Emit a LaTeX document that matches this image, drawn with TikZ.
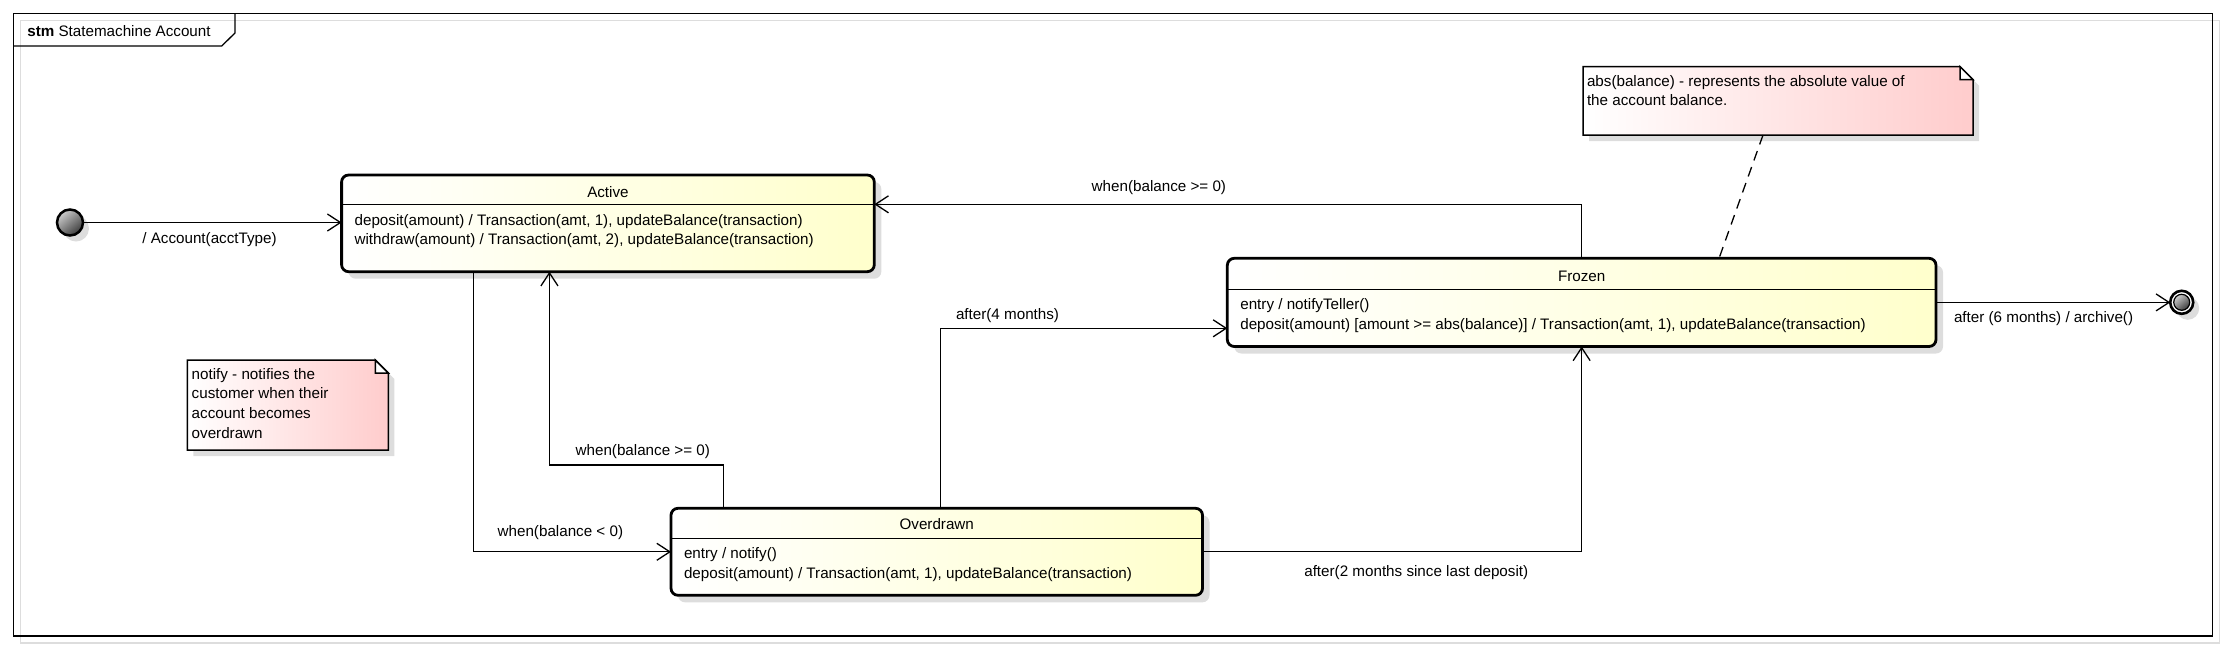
\documentclass[tikz,border=0pt]{standalone}
\usepackage{fontspec}
\setmainfont{Liberation Sans}
\usetikzlibrary{arrows.meta,calc,shadows}
\definecolor{stateyel}{RGB}{255,255,204}
\definecolor{notepink}{RGB}{255,204,204}
\definecolor{shadowgray}{RGB}{221,221,221}
\definecolor{initlight}{RGB}{205,205,205}
\definecolor{initdark}{RGB}{60,60,60}
\newcommand{\notepath}[3]{($(#1.north west)+(#2,#3)$) -- ($(#1.north east)+(#2-13,#3)$) -- ($(#1.north east)+(#2,#3+13)$) -- ($(#1.south east)+(#2,#3)$) -- ($(#1.south west)+(#2,#3)$) -- cycle}
\tikzset{
  txt/.style={inner sep=0pt, outer sep=0pt, font=\fontsize{15.2}{19.4}\selectfont},
  ttl/.style={txt, text height=10.9pt, text depth=0pt, anchor=center},
  statebox/.style={draw, line width=2.8pt, rounded corners=7pt, left color=white, right color=stateyel,
    inner sep=0pt, outer sep=0pt,
    drop shadow={shadow xshift=7pt, shadow yshift=-7pt, fill=shadowgray, opacity=1}},
  sep/.style={line width=1.3pt},
  tr/.style={line width=1.3pt, -{Straight Barb[length=13pt, width=17pt]}},
  notebody/.style={draw, line width=1.5pt, left color=white, right color=notepink},
  noteanchor/.style={inner sep=0pt, outer sep=0pt},
  pseudo/.style={circle, draw, inner sep=0pt, outer sep=0pt,
    drop shadow={shadow xshift=6pt, shadow yshift=-6pt, fill=shadowgray, opacity=1}},
  lbl/.style={txt, anchor=base},
  lblw/.style={txt, anchor=base west}
}
\begin{document}
\begin{tikzpicture}[x=1pt,y=-1pt]
\useasboundingbox (0,0) rectangle (2225,649);
% frame
\draw[shadowgray, line width=1.3pt] (20.5,20.3) rectangle (2219.5,643);
\draw[line width=1.3pt] (13.3,13.3) rectangle (2212.7,636);
\draw[line width=1.3pt] (13.3,46) -- (221.7,46) -- (235,33) -- (235,13.3);
\node[lblw] (frametitle) at (27.3,36.5) {\textbf{stm} Statemachine Account};

% states
\node[statebox, minimum width=532.7pt, minimum height=96.7pt] (active) at (607.95,223.35) {};
\draw[sep] ($(active.north west)+(0,29.3)$) -- ($(active.north east)+(0,29.3)$);
\node[ttl] (activet) at ($(active.north)+(0,16.8)$) {Active};
\node[lblw] (activeb1) at ($(active.north west)+(13,50.3)$) {deposit(amount) / Transaction(amt, 1), updateBalance(transaction)};
\node[lblw] (activeb2) at ($(active.north west)+(13,69.7)$) {withdraw(amount) / Transaction(amt, 2), updateBalance(transaction)};

\node[statebox, minimum width=708.7pt, minimum height=88.2pt] (frozen) at (1581.65,302.4) {};
\draw[sep] ($(frozen.north west)+(0,31)$) -- ($(frozen.north east)+(0,31)$);
\node[ttl] (frozent) at ($(frozen.north)+(0,17.8)$) {Frozen};
\node[lblw] (frozenb1) at ($(frozen.north west)+(13,51.5)$) {entry / notifyTeller()};
\node[lblw] (frozenb2) at ($(frozen.north west)+(13,70.9)$) {deposit(amount) [amount >= abs(balance)] / Transaction(amt, 1), updateBalance(transaction)};

\node[statebox, minimum width=531.5pt, minimum height=87pt] (overdrawn) at (936.75,551.8) {};
\draw[sep] ($(overdrawn.north west)+(0,30)$) -- ($(overdrawn.north east)+(0,30)$);
\node[ttl] (overdrawnt) at ($(overdrawn.north)+(0,16)$) {Overdrawn};
\node[lblw] (overdrawnb1) at ($(overdrawn.north west)+(13,50.5)$) {entry / notify()};
\node[lblw] (overdrawnb2) at ($(overdrawn.north west)+(13,69.9)$) {deposit(amount) / Transaction(amt, 1), updateBalance(transaction)};

% pseudostates
\node[pseudo, minimum size=26pt, line width=2.5pt, top color=initlight, bottom color=initdark, shading angle=40] (init) at (70,222.5) {};
\node[pseudo, minimum size=23pt, line width=2.6pt, fill=white] (final) at (2181.7,302.3) {};
\node[circle, draw, inner sep=0pt, minimum size=16pt, line width=1.2pt, top color=initlight, bottom color=initdark, shading angle=40] (finalin) at (final.center) {};

% notes
\node[noteanchor, minimum width=201pt, minimum height=90pt] (notifynote) at (287.8,405) {};
\fill[shadowgray] \notepath{notifynote}{6}{6};
\draw[notebody] \notepath{notifynote}{0}{0};
\draw[line width=1.5pt, fill=white] ($(notifynote.north east)+(-13,0)$) -- ($(notifynote.north east)+(-13,13)$) -- ($(notifynote.north east)+(0,13)$) -- cycle;
\node[lblw] (nn1) at ($(notifynote.north west)+(4.4,19.3)$) {notify - notifies the};
\node[lblw] (nn2) at ($(notifynote.north west)+(4.4,38.9)$) {customer when their};
\node[lblw] (nn3) at ($(notifynote.north west)+(4.4,58.5)$) {account becomes};
\node[lblw] (nn4) at ($(notifynote.north west)+(4.4,78.1)$) {overdrawn};

\node[noteanchor, minimum width=390pt, minimum height=68.3pt] (absnote) at (1778,100.85) {};
\fill[shadowgray] \notepath{absnote}{6}{6};
\draw[notebody] \notepath{absnote}{0}{0};
\draw[line width=1.5pt, fill=white] ($(absnote.north east)+(-13,0)$) -- ($(absnote.north east)+(-13,13)$) -- ($(absnote.north east)+(0,13)$) -- cycle;
\node[lblw] (an1) at ($(absnote.north west)+(4,19.3)$) {abs(balance) - represents the absolute value of};
\node[lblw] (an2) at ($(absnote.north west)+(4,38.9)$) {the account balance.};

% transitions
\draw[tr] (init.east) -- (init.east -| active.west);
\node[lbl] (l1) at (209.5,243.5) {/ Account(acctType)};

\draw[tr] ($(active.south)+(-134.4,0)$) |- (overdrawn.west);
\node[lbl] (l2) at (560.4,536.8) {when(balance < 0)};

\draw[tr] ($(overdrawn.north)+(-212.95,0)$) -- ++(0,-43.3) -| ($(active.south)+(-58.5,0)$);
\node[lbl] (l3) at (642.8,455.1) {when(balance >= 0)};

\draw[tr] ($(overdrawn.north)+(3.75,0)$) |- ($(frozen.west)+(0,25.9)$);
\node[lblw] (l4) at (956,319.1) {after(4 months)};

\draw[tr] (overdrawn.east) -| (frozen.south);
\node[lblw] (l5) at (1304.3,576.8) {after(2 months since last deposit)};

\draw[tr] (frozen.north) |- ($(active.north east)+(0,29.3)$);
\node[lblw] (l6) at (1091.7,191.5) {when(balance >= 0)};

\draw[tr] (frozen.east) -- (frozen.east -| final.west);
\node[lblw] (l7) at (1954,322) {after (6 months) / archive()};

\draw[line width=1.3pt, dash pattern=on 10pt off 7pt] ($(absnote.south)+(-15,0)$) -- ($(frozen.north)+(137.4,0)$);
\end{tikzpicture}
\end{document}
